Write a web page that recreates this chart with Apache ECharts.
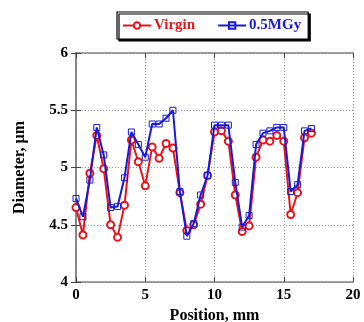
<!DOCTYPE html>
<html><head><meta charset="utf-8">
<script src="https://cdn.jsdelivr.net/npm/echarts@6/dist/echarts.min.js"></script>
<style>html,body{margin:0;padding:0;background:#fff}#c{width:364px;height:322px}</style>
</head><body><div id="c"></div>
<script>
var positions = [0,0.5,1,1.5,2,2.5,3,3.5,4,4.5,5,5.5,6,6.5,7,7.5,8,8.5,9,9.5,10,10.5,11,11.5,12,12.5,13,13.5,14,14.5,15,15.5,16,16.5,17];
var virgin = [4.65,4.41,4.95,5.28,4.99,4.50,4.39,4.67,5.24,5.05,4.84,5.18,5.08,5.21,5.17,4.78,4.45,4.50,4.68,4.93,5.31,5.32,5.23,4.76,4.44,4.49,5.09,5.24,5.23,5.28,5.23,4.59,4.78,5.26,5.30];
var mgy = [4.73,4.57,4.89,5.35,5.11,4.65,4.66,4.91,5.31,5.20,5.09,5.38,5.38,5.43,5.50,4.79,4.40,4.51,4.76,4.93,5.37,5.37,5.37,4.87,4.48,4.58,5.20,5.30,5.32,5.35,5.35,4.79,4.85,5.32,5.34];
var seriesNames = ['Virgin','0.5MGy'];
var xTicks = [0,20,5];
var yTicks = [4,6,0.5];

function pairs(xs, ys){ return xs.map(function(x,i){return [x, ys[i]];}); }
var font = 'Liberation Serif';
var axisLineStyle = {color:'#808080', width:1.5};
var split = {show:true, lineStyle:{color:'#999', type:[1,2], width:1}};
var chart = echarts.init(document.getElementById('c'), null, {renderer:'canvas'});
chart.setOption({
  animation:false,
  backgroundColor:'#fff',
  legend:{
    left:117, top:12,
    padding:[6,7,6,5],
    itemGap:22, itemWidth:28, itemHeight:8,
    backgroundColor:'#fff', borderColor:'#000', borderWidth:1.2,
    shadowColor:'#000', shadowOffsetX:2, shadowOffsetY:2, shadowBlur:0,
    data:[
      {name:seriesNames[0], textStyle:{color:'#e8141c'}},
      {name:seriesNames[1], textStyle:{color:'#1a1ad6'}}
    ],
    textStyle:{fontFamily:font, fontWeight:'bold', fontSize:15, padding:[0,0,0,-2]}
  },
  grid:{left:76, top:53, width:277, height:229, containLabel:false, outerBoundsMode:'none'},
  xAxis:[{
    type:'value', min:xTicks[0], max:xTicks[1], interval:xTicks[2],
    name:'Position, mm', nameLocation:'middle', nameGap:24,
    nameTextStyle:{fontFamily:font, fontWeight:'bold', fontSize:16, color:'#000'},
    axisLine:{show:true, onZero:false, lineStyle:axisLineStyle},
    axisTick:{show:true, inside:true, length:5, lineStyle:{color:'#444'}},
    axisLabel:{fontFamily:font, fontWeight:'bold', fontSize:15, color:'#000', margin:6},
    splitLine:split
  },{
    type:'value', position:'top', min:xTicks[0], max:xTicks[1], interval:xTicks[2],
    axisLine:{show:true, lineStyle:axisLineStyle},
    axisTick:{show:true, inside:true, length:5, lineStyle:{color:'#444'}},
    axisLabel:{show:false}, splitLine:{show:false}
  }],
  yAxis:[{
    type:'value', min:yTicks[0], max:yTicks[1], interval:yTicks[2],
    name:'Diameter, \u00b5m', nameLocation:'middle', nameGap:48,
    nameTextStyle:{fontFamily:font, fontWeight:'bold', fontSize:16, color:'#000'},
    axisLine:{show:true, onZero:false, lineStyle:axisLineStyle},
    axisTick:{show:true, inside:true, length:5, lineStyle:{color:'#444'}},
    axisLabel:{fontFamily:font, fontWeight:'bold', fontSize:15, color:'#000', margin:8},
    splitLine:split
  },{
    type:'value', position:'right', min:yTicks[0], max:yTicks[1], interval:yTicks[2],
    axisLine:{show:true, lineStyle:axisLineStyle},
    axisTick:{show:true, inside:true, length:5, lineStyle:{color:'#444'}},
    axisLabel:{show:false}, splitLine:{show:false}
  }],
  series:[
    {name:seriesNames[0], type:'line', data:pairs(positions, virgin), clip:false,
     symbol:'emptyCircle', symbolSize:7,
     lineStyle:{color:'#e8141c', width:2}, itemStyle:{color:'#e8141c', borderWidth:1}, z:2},
    {name:seriesNames[1], type:'line', data:pairs(positions, mgy), clip:false,
     symbol:'rect', symbolSize:6,
     lineStyle:{color:'#1a1ad6', width:2}, itemStyle:{color:'rgba(255,255,255,0)', borderColor:'#1a1ad6', borderWidth:1}, z:3}
  ]
});
</script></body></html>
